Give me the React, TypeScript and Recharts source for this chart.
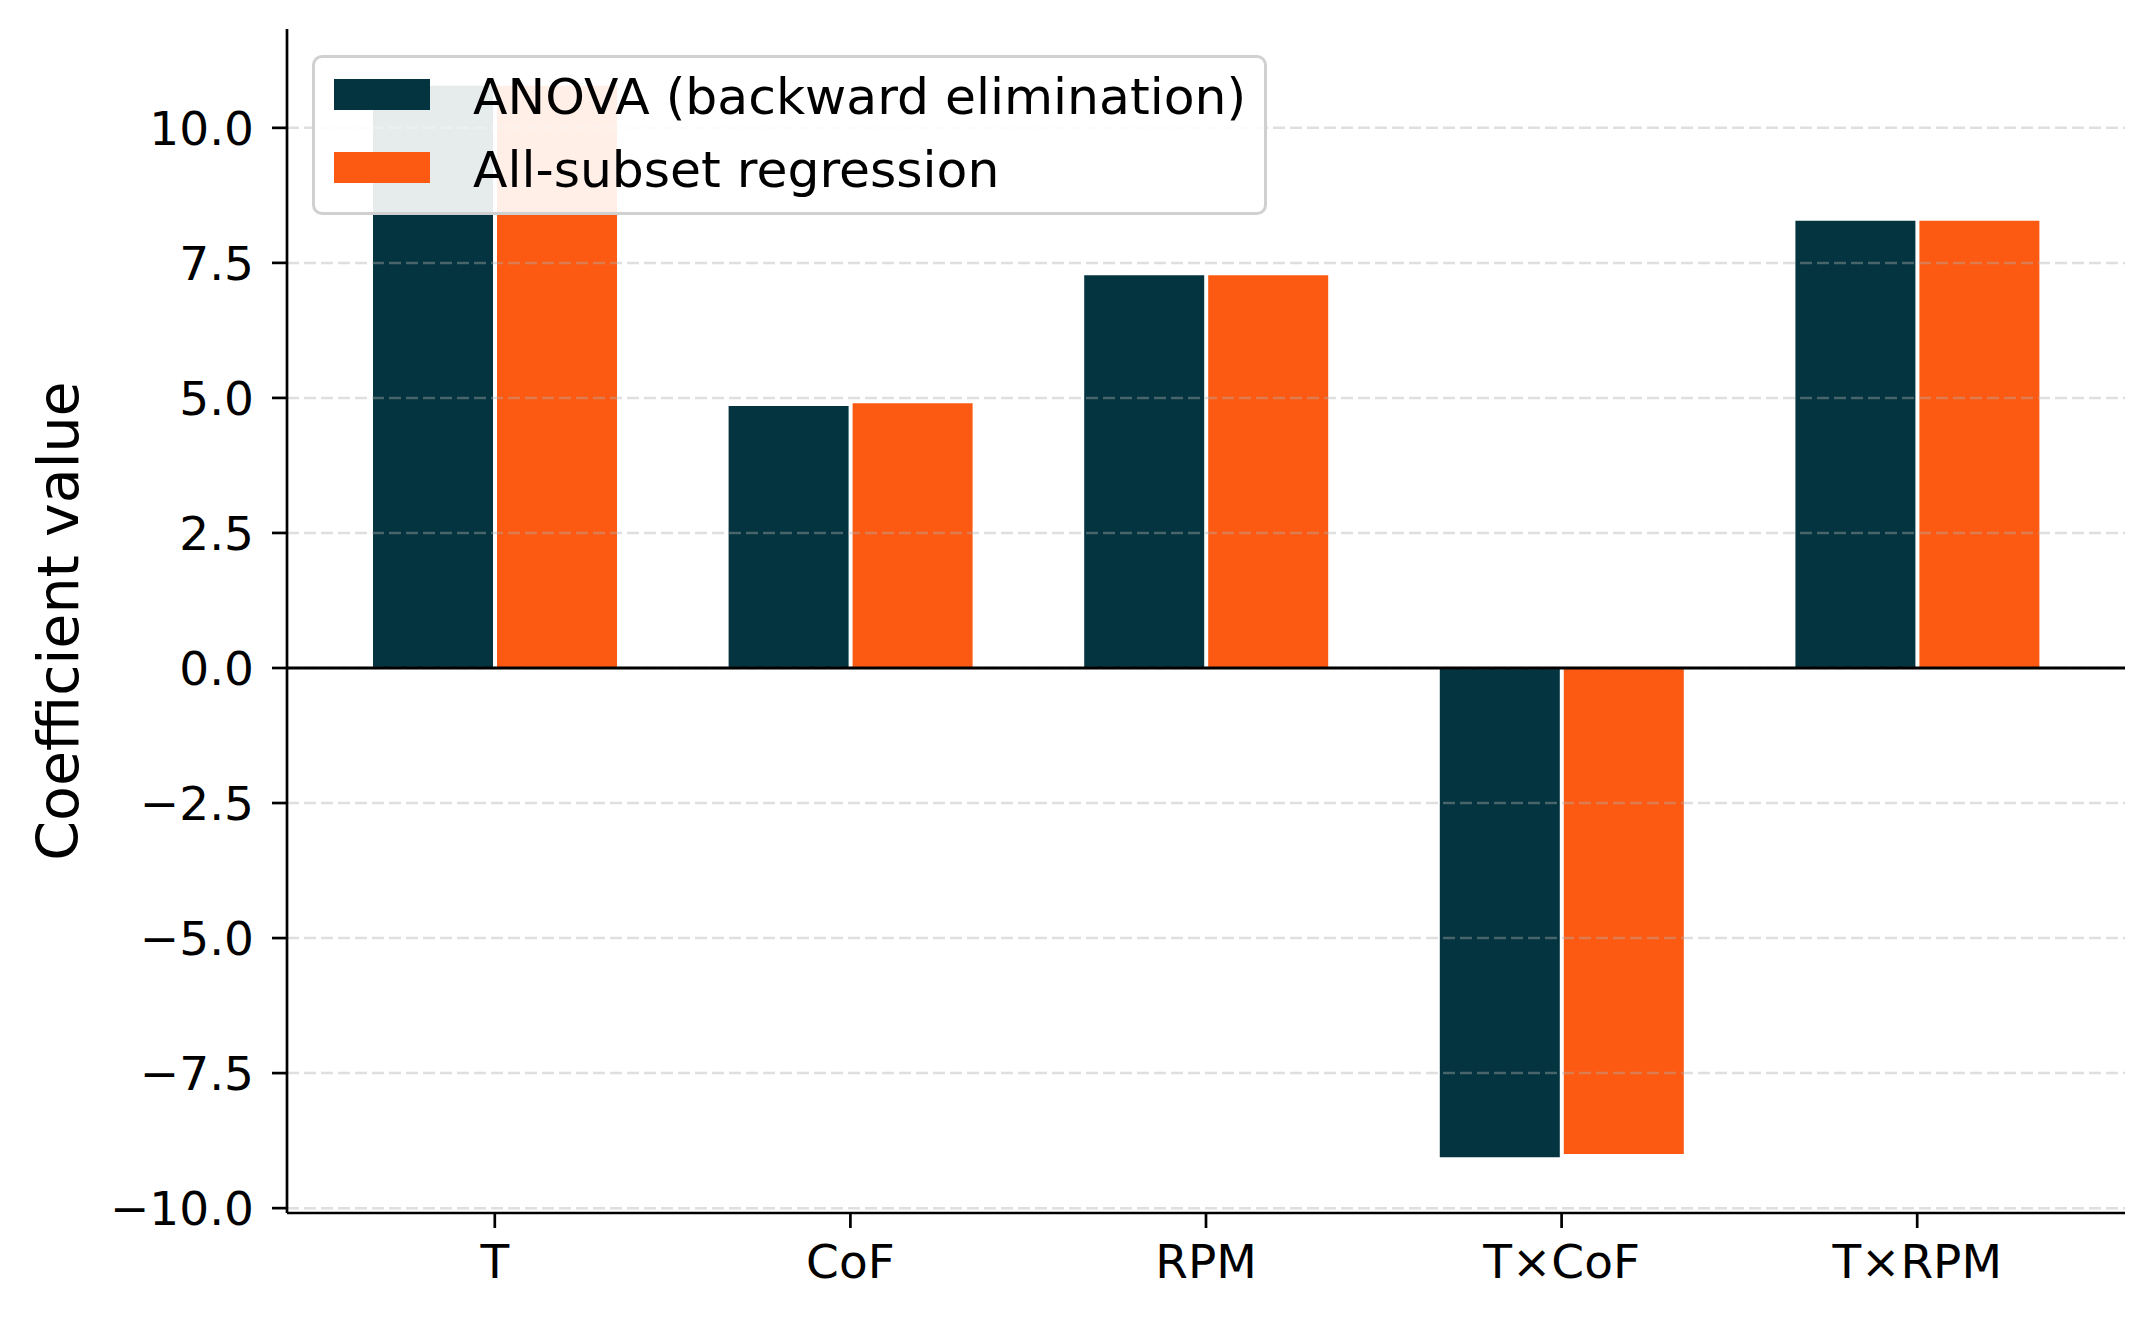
import React from "react";
import {
  Bar,
  BarChart,
  Label,
  ReferenceLine,
  XAxis,
  YAxis,
} from "recharts";

const terms = ["T", "CoF", "RPM", "T×CoF", "T×RPM"];
const anovaCoef = [10.78, 4.85, 7.27, -9.06, 8.28];
const allSubsetCoef = [10.78, 4.9, 7.27, -9.0, 8.28];
const yTicks = [-10, -7.5, -5, -2.5, 0, 2.5, 5, 7.5, 10];
const yDomain = [-10.09, 11.83];

const seriesNames = ["ANOVA (backward elimination)", "All-subset regression"];
const DARK = "#04343F";
const ORANGE = "#FC5A12";
const FONT = "'DejaVu Sans', sans-serif";

const data = terms.map((term, i) => ({
  term,
  anova: anovaCoef[i],
  allSubset: allSubsetCoef[i],
}));

const fmtTick = (v: number) => {
  const s = Math.abs(v).toFixed(1);
  return v < 0 ? "\u2212" + s : s;
};

const tickStyle = { fontFamily: FONT, fontSize: 47, fill: "#000" };
const axisStroke = { stroke: "#000", strokeWidth: 2.7 };

function LegendBox() {
  const rows = [
    { name: seriesNames[0], color: DARK },
    { name: seriesNames[1], color: ORANGE },
  ];
  return (
    <div
      style={{
        position: "absolute",
        left: 312,
        top: 55,
        width: 955,
        height: 160,
        boxSizing: "border-box",
        border: "3px solid #d0d0d0",
        borderRadius: 10,
        background: "rgba(255,255,255,0.9)",
        paddingLeft: 19,
        fontFamily: FONT,
        fontSize: 50.4,
        color: "#000",
      }}
    >
      {rows.map((r) => (
        <div
          key={r.name}
          style={{ display: "flex", alignItems: "center", height: 73, lineHeight: "73px" }}
        >
          <div style={{ width: 96, height: 31, background: r.color, marginRight: 43 }} />
          <span style={{ position: "relative", top: 2 }}>{r.name}</span>
        </div>
      ))}
    </div>
  );
}

export default function App() {
  return (
    <div
      style={{
        position: "absolute",
        left: 0,
        top: 0,
        width: 2154,
        height: 1320,
        background: "#fff",
      }}
    >
      <BarChart
        width={2154}
        height={1320}
        data={data}
        margin={{ top: 29, right: 29, bottom: 0, left: 0 }}
        barGap={4}
        barSize={120}
      >
        <XAxis
          dataKey="term"
          height={107}
          padding={{ left: 30, right: 30 }}
          tick={tickStyle}
          tickSize={15}
          tickMargin={17}
          axisLine={axisStroke}
          tickLine={axisStroke}
          interval={0}
        />
        <YAxis
          width={287}
          type="number"
          domain={yDomain}
          ticks={yTicks}
          allowDataOverflow
          tickFormatter={fmtTick}
          tick={tickStyle}
          tickSize={15}
          tickMargin={18}
          axisLine={axisStroke}
          tickLine={axisStroke}
        >
          <Label
            content={() => (
              <text
                x={78}
                y={621}
                transform="rotate(-90 78 621)"
                textAnchor="middle"
                fontFamily={FONT}
                fontSize={57}
                fill="#000"
              >
                Coefficient value
              </text>
            )}
          />
        </YAxis>
        <Bar dataKey="anova" name={seriesNames[0]} fill={DARK} isAnimationActive={false} />
        <Bar dataKey="allSubset" name={seriesNames[1]} fill={ORANGE} isAnimationActive={false} />
        {yTicks.map((t) => (
          <ReferenceLine
            key={t}
            y={t}
            stroke="#b0b0b0"
            strokeOpacity={0.4}
            strokeWidth={2.5}
            strokeDasharray="12 5"
          />
        ))}
        <ReferenceLine y={0} stroke="#000" strokeWidth={3} />
      </BarChart>
      <LegendBox />
    </div>
  );
}
